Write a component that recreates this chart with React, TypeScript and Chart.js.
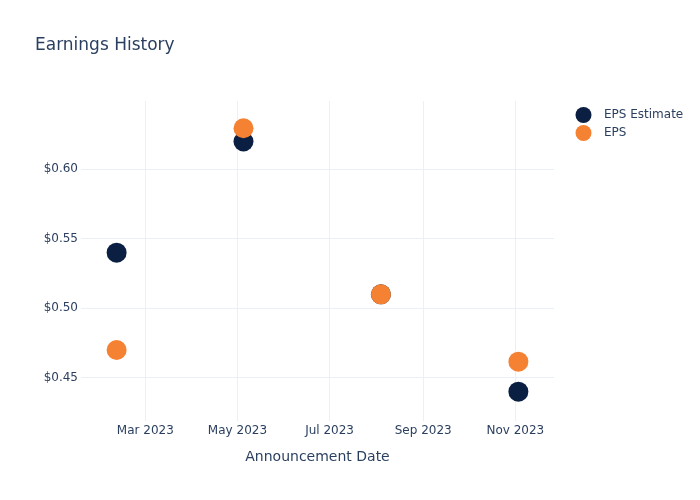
import React, { useEffect, useRef } from "react";
import { Chart, registerables } from "chart.js";

Chart.register(...registerables);

const announcementDates = ["2023-02-10", "2023-05-05", "2023-08-04", "2023-11-03"];
const epsEstimate = [0.54, 0.62, 0.51, 0.44];
const epsActual = [0.47, 0.6295, 0.51, 0.4616];
const xTickDates = ["2023-03-01", "2023-05-01", "2023-07-01", "2023-09-01", "2023-11-01"];
const xTickLabels = ["Mar 2023", "May 2023", "Jul 2023", "Sep 2023", "Nov 2023"];
const yTickValues = [0.45, 0.5, 0.55, 0.6];
const seriesNames = ["EPS Estimate", "EPS"];
const seriesColors = ["#0B1F42", "#F58233"];

const xMinDate = "2023-01-17T10:00:00Z";
const xMaxDate = "2023-11-26T14:00:00Z";
const yMin = 0.4189;
const yMax = 0.6491;

const FONT = "'DejaVu Sans', Verdana, sans-serif";
const TEXT = "#2a3f5f";
const GRID = "#EBF0F8";

const t = (d: string) => Date.parse(d.length === 10 ? d + "T00:00:00Z" : d);

const overlay = {
  id: "overlay",
  afterDraw(chart: any) {
    const ctx = chart.ctx;
    ctx.save();
    ctx.fillStyle = TEXT;
    ctx.font = `17px ${FONT}`;
    ctx.textAlign = "left";
    ctx.textBaseline = "alphabetic";
    ctx.fillText("Earnings History", 34, 49);
    const ys = [114, 132];
    seriesNames.forEach((name, i) => {
      ctx.beginPath();
      ctx.fillStyle = seriesColors[i];
      ctx.arc(582.5, ys[i], 8, 0, Math.PI * 2);
      ctx.fill();
      ctx.fillStyle = TEXT;
      ctx.font = `12px ${FONT}`;
      ctx.textBaseline = "middle";
      ctx.fillText(name, 603, ys[i]);
    });
    ctx.restore();
  },
};

export default function App() {
  const ref = useRef<HTMLCanvasElement | null>(null);
  useEffect(() => {
    if (!ref.current) return;
    const chart = new Chart(ref.current, {
      type: "scatter",
      data: {
        datasets: [
          {
            label: seriesNames[0],
            data: announcementDates.map((d, i) => ({ x: t(d), y: epsEstimate[i] })),
            backgroundColor: seriesColors[0],
            borderColor: seriesColors[0],
            pointRadius: 10,
            pointHoverRadius: 10,
            borderWidth: 0,
            order: 2,
          },
          {
            label: seriesNames[1],
            data: announcementDates.map((d, i) => ({ x: t(d), y: epsActual[i] })),
            backgroundColor: seriesColors[1],
            borderColor: seriesColors[1],
            pointRadius: 10,
            pointHoverRadius: 10,
            borderWidth: 0,
            order: 1,
          },
        ],
      },
      options: {
        animation: false,
        responsive: false,
        maintainAspectRatio: false,
        layout: { padding: { top: 100, right: 147, bottom: 0, left: 0 } },
        plugins: { legend: { display: false }, title: { display: false }, tooltip: { enabled: false } },
        scales: {
          x: {
            type: "linear",
            min: t(xMinDate),
            max: t(xMaxDate),
            afterBuildTicks: (scale: any) => {
              scale.ticks = xTickDates.map((d) => ({ value: t(d) }));
            },
            afterFit: (scale: any) => {
              scale.height = 80;
            },
            grid: { color: GRID, drawTicks: false, lineWidth: 1 },
            border: { display: false },
            ticks: {
              padding: 3,
              color: TEXT,
              font: { family: FONT, size: 12 },
              maxRotation: 0,
              autoSkip: false,
              callback: (v: any) => {
                const i = xTickDates.findIndex((d) => t(d) === v);
                return i >= 0 ? xTickLabels[i] : "";
              },
            },
            title: {
              display: true,
              text: "Announcement Date",
              color: TEXT,
              font: { family: FONT, size: 14 },
              padding: { top: 0, bottom: 35 },
            },
          },
          y: {
            type: "linear",
            min: yMin,
            max: yMax,
            afterBuildTicks: (scale: any) => {
              scale.ticks = yTickValues.map((v) => ({ value: v }));
            },
            afterFit: (scale: any) => {
              scale.width = 80;
            },
            grid: { color: GRID, drawTicks: false, lineWidth: 1 },
            border: { display: false },
            ticks: {
              padding: 3,
              color: TEXT,
              font: { family: FONT, size: 12 },
              callback: (v: any) => "$" + Number(v).toFixed(2),
            },
          },
        },
      },
      plugins: [overlay],
    });
    return () => chart.destroy();
  }, []);
  return (
    <div style={{ position: "fixed", left: 1, top: 1, width: 700, height: 500, background: "#fff" }}>
      <canvas ref={ref} width={700} height={500} style={{ width: 700, height: 500 }} />
    </div>
  );
}
